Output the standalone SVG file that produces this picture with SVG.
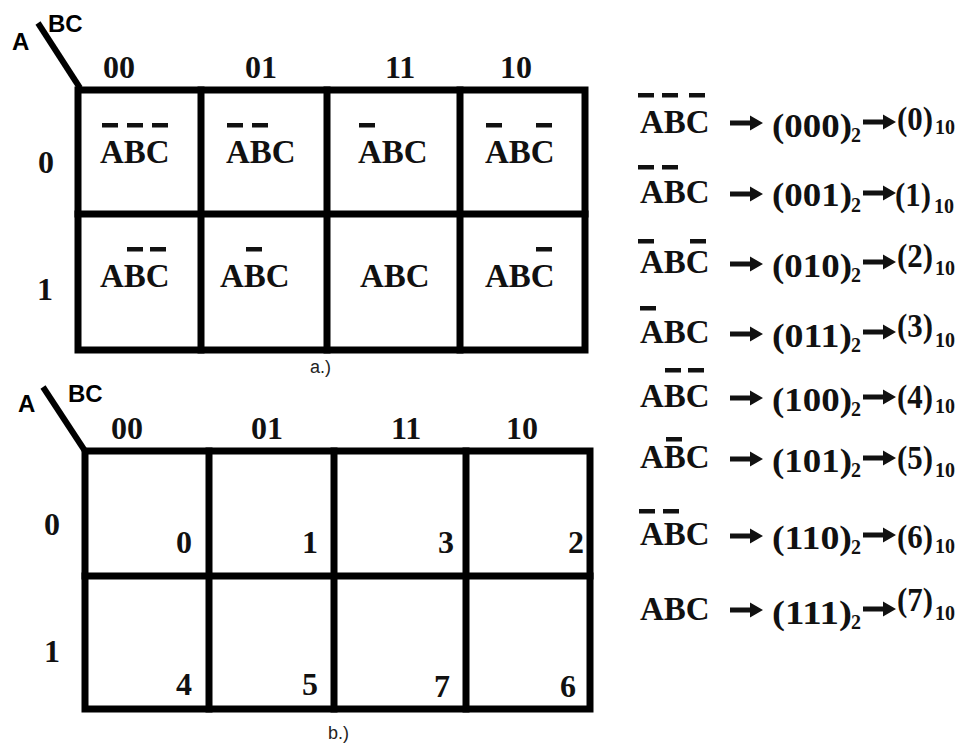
<svg xmlns="http://www.w3.org/2000/svg" width="969" height="747" viewBox="0 0 969 747">
<style>
.g{fill:none;stroke:#000;stroke-width:7;stroke-linecap:square}
.d{stroke:#000;stroke-width:6}
.hd{font-family:"Liberation Sans",Arial,sans-serif;font-weight:bold;font-size:24px;fill:#000}
.t{font-family:"Liberation Serif","Times New Roman",serif;font-weight:bold;fill:#111}
.c{font-size:32px}
.m{font-size:33px}
.s{font-size:20px}
.big{font-size:34px}
.cap{font-family:"Liberation Sans",Arial,sans-serif;font-size:18px;fill:#222}
.bar{fill:#111}
</style>
<defs>
<path id="arr" d="M0,-2.5 H20 V-7.5 L33,0 L20,7.5 V2.5 H0 Z" fill="#111"/>
<rect id="ob" width="16" height="4.5" class="bar"/>
</defs>
<rect width="969" height="747" fill="#fff"/>

<g id="mapA">
  <line class="d" x1="38" y1="23" x2="80" y2="88"/>
  <text class="hd" x="12" y="50">A</text>
  <text class="hd" x="48" y="32">BC</text>
  <text class="t c" x="103" y="78">00</text>
  <text class="t c" x="245" y="78">01</text>
  <text class="t c" x="385" y="78">11</text>
  <text class="t c" x="500" y="78">10</text>
  <text class="t c" x="38" y="173">0</text>
  <text class="t c" x="37" y="300">1</text>
  <rect class="g" x="78" y="90" width="507" height="260"/>
  <line class="g" x1="78" y1="214" x2="585" y2="214"/>
  <line class="g" x1="201" y1="90" x2="201" y2="350"/>
  <line class="g" x1="327" y1="90" x2="327" y2="350"/>
  <line class="g" x1="460" y1="90" x2="460" y2="350"/>
  <g id="a000"><text class="t m" x="100" y="163">ABC</text><use href="#ob" x="102" y="123"/><use href="#ob" x="127" y="123"/><use href="#ob" x="152" y="123"/></g>
  <g id="a001"><text class="t m" x="226" y="163">ABC</text><use href="#ob" x="227" y="123"/><use href="#ob" x="252" y="123"/></g>
  <g id="a011"><text class="t m" x="358" y="163">ABC</text><use href="#ob" x="359" y="123"/></g>
  <g id="a010"><text class="t m" x="485" y="163">ABC</text><use href="#ob" x="486" y="123"/><use href="#ob" x="536" y="123"/></g>
  <g id="a100"><text class="t m" x="100" y="287">ABC</text><use href="#ob" x="127" y="247"/><use href="#ob" x="150" y="247"/></g>
  <g id="a101"><text class="t m" x="220" y="287">ABC</text><use href="#ob" x="246" y="247"/></g>
  <g id="a111"><text class="t m" x="360" y="287">ABC</text></g>
  <g id="a110"><text class="t m" x="485" y="287">ABC</text><use href="#ob" x="536" y="247"/></g>
  <text class="cap" x="310" y="373">a.)</text>
</g>

<g id="mapB">
  <line class="d" x1="43" y1="387" x2="85" y2="451"/>
  <text class="hd" x="18" y="412">A</text>
  <text class="hd" x="68" y="402">BC</text>
  <text class="t c" x="111" y="439">00</text>
  <text class="t c" x="251" y="439">01</text>
  <text class="t c" x="391" y="439">11</text>
  <text class="t c" x="506" y="439">10</text>
  <text class="t c" x="44" y="535">0</text>
  <text class="t c" x="44" y="662">1</text>
  <rect class="g" x="85" y="451" width="505" height="258"/>
  <line class="g" x1="85" y1="576" x2="590" y2="576"/>
  <line class="g" x1="209" y1="451" x2="209" y2="709"/>
  <line class="g" x1="334" y1="451" x2="334" y2="709"/>
  <line class="g" x1="466" y1="451" x2="466" y2="709"/>
  <g class="t c" text-anchor="end">
    <text id="b0" x="192" y="553">0</text>
    <text id="b1" x="318" y="553">1</text>
    <text id="b3" x="454" y="553">3</text>
    <text id="b2" x="584" y="553">2</text>
    <text id="b4" x="192" y="695">4</text>
    <text id="b5" x="318" y="695">5</text>
    <text id="b7" x="450" y="697">7</text>
    <text id="b6" x="576" y="697">6</text>
  </g>
  <text class="cap" x="328" y="739">b.)</text>
</g>

<g id="list">
  <g id="r0">
    <text class="t m" x="640" y="133">ABC</text><use href="#ob" x="638" y="93"/><use href="#ob" x="662" y="93"/><use href="#ob" x="689" y="93"/>
    <text class="t big" x="772" y="137" textLength="80" lengthAdjust="spacingAndGlyphs">(000)</text><text class="t s" x="851" y="142">2</text>
    <text class="t big" x="897" y="130" textLength="36" lengthAdjust="spacingAndGlyphs">(0)</text><text class="t s" x="935" y="134">10</text>
  </g>
  <g id="r1">
    <text class="t m" x="640" y="203">ABC</text><use href="#ob" x="638" y="165"/><use href="#ob" x="662" y="165"/>
    <text class="t big" x="772" y="206" textLength="80" lengthAdjust="spacingAndGlyphs">(001)</text><text class="t s" x="851" y="212">2</text>
    <text class="t big" x="895" y="206" textLength="36" lengthAdjust="spacingAndGlyphs">(1)</text><text class="t s" x="934" y="213">10</text>
  </g>
  <g id="r2">
    <text class="t m" x="640" y="273">ABC</text><use href="#ob" x="638" y="239"/><use href="#ob" x="690" y="239"/>
    <text class="t big" x="772" y="277" textLength="80" lengthAdjust="spacingAndGlyphs">(010)</text><text class="t s" x="851" y="282">2</text>
    <text class="t big" x="897" y="267" textLength="36" lengthAdjust="spacingAndGlyphs">(2)</text><text class="t s" x="935" y="275">10</text>
  </g>
  <g id="r3">
    <text class="t m" x="640" y="343">ABC</text><use href="#ob" x="640" y="306"/>
    <text class="t big" x="772" y="347" textLength="80" lengthAdjust="spacingAndGlyphs">(011)</text><text class="t s" x="851" y="352">2</text>
    <text class="t big" x="897" y="337" textLength="36" lengthAdjust="spacingAndGlyphs">(3)</text><text class="t s" x="935" y="347">10</text>
  </g>
  <g id="r4">
    <text class="t m" x="640" y="407">ABC</text><use href="#ob" x="665" y="368"/><use href="#ob" x="688" y="368"/>
    <text class="t big" x="772" y="411" textLength="80" lengthAdjust="spacingAndGlyphs">(100)</text><text class="t s" x="851" y="416">2</text>
    <text class="t big" x="897" y="408" textLength="36" lengthAdjust="spacingAndGlyphs">(4)</text><text class="t s" x="935" y="413">10</text>
  </g>
  <g id="r5">
    <text class="t m" x="640" y="468">ABC</text><use href="#ob" x="666" y="437"/>
    <text class="t big" x="772" y="472" textLength="80" lengthAdjust="spacingAndGlyphs">(101)</text><text class="t s" x="851" y="477">2</text>
    <text class="t big" x="897" y="469" textLength="36" lengthAdjust="spacingAndGlyphs">(5)</text><text class="t s" x="935" y="477">10</text>
  </g>
  <g id="r6">
    <text class="t m" x="640" y="545">ABC</text><use href="#ob" x="639" y="509"/><use href="#ob" x="663" y="509"/>
    <text class="t big" x="772" y="549" textLength="80" lengthAdjust="spacingAndGlyphs">(110)</text><text class="t s" x="851" y="554">2</text>
    <text class="t big" x="897" y="548" textLength="36" lengthAdjust="spacingAndGlyphs">(6)</text><text class="t s" x="935" y="553">10</text>
  </g>
  <g id="r7">
    <text class="t m" x="640" y="620">ABC</text>
    <text class="t big" x="772" y="624" textLength="80" lengthAdjust="spacingAndGlyphs">(111)</text><text class="t s" x="851" y="629">2</text>
    <text class="t big" x="897" y="611" textLength="36" lengthAdjust="spacingAndGlyphs">(7)</text><text class="t s" x="935" y="620">10</text>
  </g>
</g>

<g id="connectors">
  <use href="#arr" x="730" y="123"/><use href="#arr" x="863" y="122"/>
  <use href="#arr" x="730" y="194"/><use href="#arr" x="863" y="193"/>
  <use href="#arr" x="730" y="264"/><use href="#arr" x="863" y="262"/>
  <use href="#arr" x="730" y="334"/><use href="#arr" x="863" y="332"/>
  <use href="#arr" x="730" y="398"/><use href="#arr" x="863" y="397"/>
  <use href="#arr" x="730" y="459"/><use href="#arr" x="863" y="458"/>
  <use href="#arr" x="730" y="536"/><use href="#arr" x="863" y="535"/>
  <use href="#arr" x="730" y="610"/><use href="#arr" x="863" y="609"/>
</g>
</svg>
